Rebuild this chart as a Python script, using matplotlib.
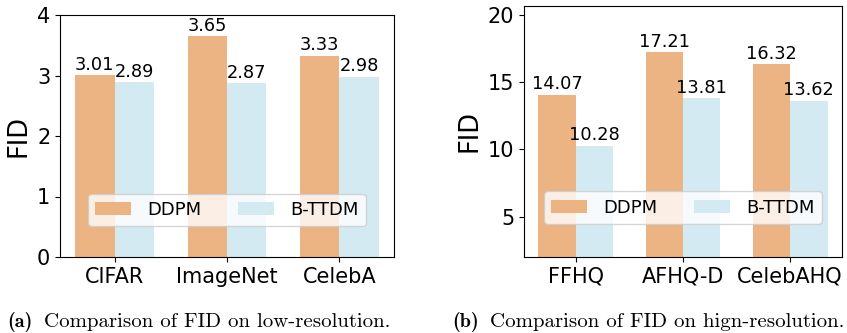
import matplotlib
matplotlib.use("Agg")
import matplotlib.pyplot as plt
import numpy as np

low_categories = ["CIFAR", "ImageNet", "CelebA"]
low_ddpm = [3.01, 3.65, 3.33]
low_bttdm = [2.89, 2.87, 2.98]

high_categories = ["FFHQ", "AFHQ-D", "CelebAHQ"]
high_ddpm = [14.07, 17.21, 16.32]
high_bttdm = [10.28, 13.81, 13.62]

series_names = ["DDPM", "B-TTDM"]
color_ddpm = "#ecb383"
color_bttdm = "#d3eaf2"

fig = plt.figure(figsize=(8.47, 3.33), dpi=100)
W, H = 847, 333
ax1 = fig.add_axes([60 / W, (H - 257) / H, 334 / W, 242 / H])
ax2 = fig.add_axes([524 / W, (H - 257) / H, 318 / W, 251 / H])

def draw(ax, cats, d, b, ylim, yticks, legend_y):
    x = np.arange(len(cats))
    w = 0.35
    r1 = ax.bar(x - w / 2, d, w, color=color_ddpm, label=series_names[0])
    r2 = ax.bar(x + w / 2, b, w, color=color_bttdm, label=series_names[1])
    ax.bar_label(r1, labels=[f"{v:.2f}" for v in d], fontsize=12.8, padding=1)
    ax.bar_label(r2, labels=[f"{v:.2f}" for v in b], fontsize=12.8, padding=1)
    ax.set_xticks(x)
    ax.set_xticklabels(cats, fontsize=15)
    ax.set_yticks(yticks)
    ax.tick_params(axis="y", labelsize=15)
    ax.set_ylim(*ylim)
    ax.set_ylabel("FID", fontsize=18.5)
    ax.legend(ncol=2, loc="center", bbox_to_anchor=(0.5, legend_y), fontsize=13,
              handlelength=2.0, handletextpad=0.9, columnspacing=2.0)

draw(ax1, low_categories, low_ddpm, low_bttdm, (0, 4), [0, 1, 2, 3, 4], 0.194)
draw(ax2, high_categories, high_ddpm, high_bttdm, (2, 20.65), [5, 10, 15, 20], 0.197)

cap_y = 1 - 322 / H
fig.text(7 / W, cap_y, "(a)", fontfamily="cmb10", fontsize=14.5, va="center")
fig.text(44 / W, cap_y, "Comparison of FID on low-resolution.", fontfamily="cmr10", fontsize=15, va="center")
fig.text(452 / W, cap_y, "(b)", fontfamily="cmb10", fontsize=14.5, va="center")
fig.text(490 / W, cap_y, "Comparison of FID on hign-resolution.", fontfamily="cmr10", fontsize=15, va="center")

fig.savefig("out.png", dpi=100)
